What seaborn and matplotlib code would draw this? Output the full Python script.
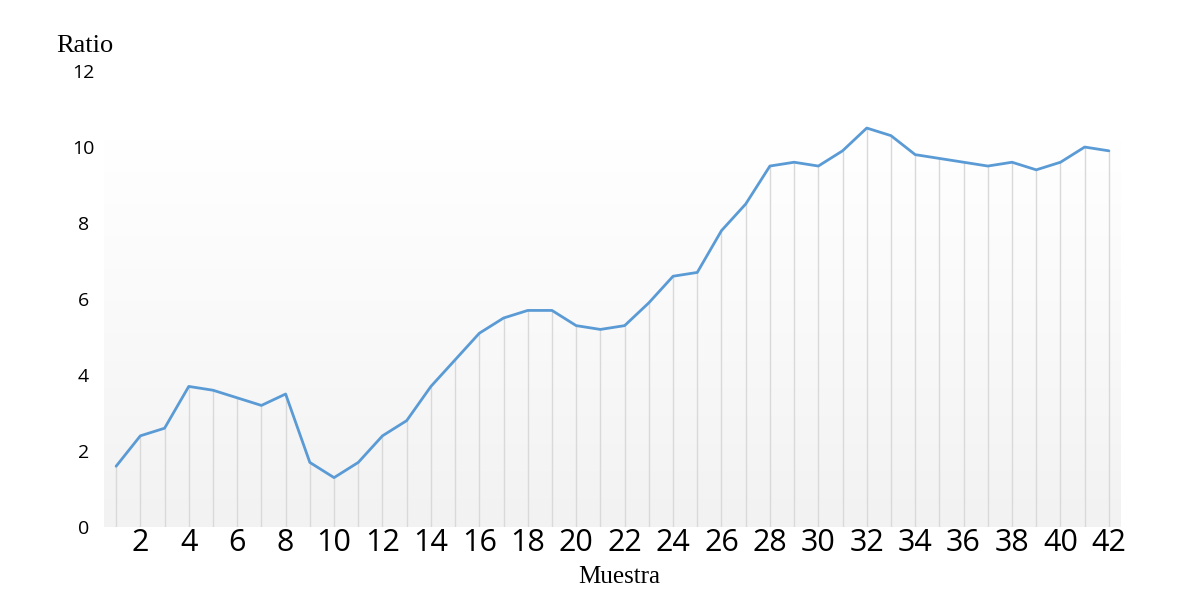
import numpy as np
import pandas as pd
import matplotlib
matplotlib.use("Agg")
import matplotlib.pyplot as plt
import seaborn as sns
from matplotlib.colors import LinearSegmentedColormap

# DATOS
muestra = list(range(1, 43))
ratio = [1.6, 2.4, 2.6, 3.7, 3.6, 3.4, 3.2, 3.5, 1.7, 1.3,
         1.7, 2.4, 2.8, 3.7, 4.4, 5.1, 5.5, 5.7, 5.7, 5.3,
         5.2, 5.3, 5.9, 6.6, 6.7, 7.8, 8.5, 9.5, 9.6, 9.5,
         9.9, 10.5, 10.3, 9.8, 9.7, 9.6, 9.5, 9.6, 9.4, 9.6,
         10.0, 9.9]
xticks = list(range(2, 43, 2))
yticks = [0, 2, 4, 6, 8, 10, 12]

df = pd.DataFrame({"Muestra": muestra, "Ratio": ratio})

sns.set_style("white")
plt.rcParams["font.family"] = ["Open Sans", "DejaVu Sans"]
plt.rcParams["text.color"] = "black"
plt.rcParams["axes.labelcolor"] = "black"
plt.rcParams["xtick.color"] = "black"
plt.rcParams["ytick.color"] = "black"

fig = plt.figure(figsize=(11.82, 5.98), dpi=100)
ax = fig.add_axes([0.088, 0.1187, 0.8604, 0.7625])

# fondo degradado
fondo = LinearSegmentedColormap.from_list("fondo", ["#f2f2f2", "#f9f9f9", "#ffffff"])
grad = np.linspace(0, 1, 256).reshape(-1, 1)
ax.imshow(grad, extent=[0, 1, 0, 0.85], transform=ax.transAxes, aspect="auto",
          cmap=fondo, origin="lower", zorder=0)
ax.set_facecolor("white")

# lineas verticales bajo la curva
ax.vlines(df["Muestra"], 0, df["Ratio"], color="#d9d9d9", lw=1, zorder=1)

sns.lineplot(data=df, x="Muestra", y="Ratio", ax=ax, color="#5b9bd5", lw=2, zorder=2)

ax.set_xlim(0.5, 42.5)
ax.set_ylim(0, 12)
ax.set_xticks(xticks)
ax.set_yticks(yticks)
ax.tick_params(axis="x", length=0, pad=1, labelsize=22)
ax.tick_params(axis="y", length=0, pad=15, labelsize=14)
for lab in ax.get_yticklabels():
    lab.set_ha("center")
for s in ax.spines.values():
    s.set_visible(False)
ax.grid(False)

ax.set_ylabel("Ratio", rotation=0, fontsize=19, family="Liberation Serif", ha="center", va="center")
ax.yaxis.set_label_coords(-0.0187, 1.055)
ax.set_xlabel("Muestra", fontsize=18, family="Liberation Serif", ha="center", va="center")
ax.xaxis.set_label_coords(0.507, -0.11)

plt.savefig("out.png", dpi=100)
